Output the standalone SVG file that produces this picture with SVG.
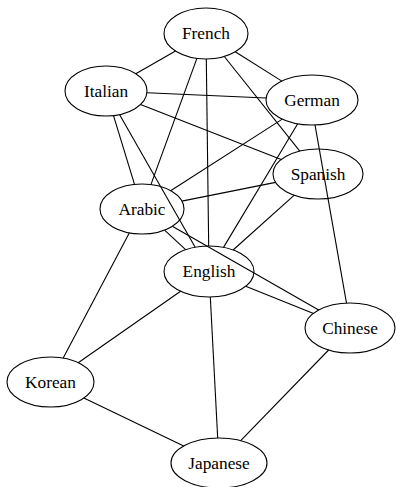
<svg xmlns="http://www.w3.org/2000/svg" width="396" height="487" viewBox="0 0 396 487">
<style>
.n ellipse{fill:none;stroke:#000;stroke-width:1.1}
text{font-family:"Times New Roman","Liberation Serif",Times,"DejaVu Serif",serif;font-size:17.3px;text-anchor:middle;fill:#000}
#edges line{stroke:#000;stroke-width:1.1}
</style>
<rect width="396" height="487" fill="#fff"/>
<g id="edges">
<line x1="175.5" y1="51.0" x2="135.8" y2="73.8"/>
<line x1="235.2" y1="51.8" x2="281.9" y2="81.1"/>
<line x1="224.3" y1="56.5" x2="299.8" y2="151.1"/>
<line x1="196.9" y1="58.4" x2="150.9" y2="184.6"/>
<line x1="206.3" y1="59.0" x2="208.7" y2="246.0"/>
<line x1="146.9" y1="92.8" x2="266.1" y2="98.0"/>
<line x1="140.5" y1="104.5" x2="281.2" y2="159.6"/>
<line x1="113.5" y1="115.6" x2="134.5" y2="184.4"/>
<line x1="119.5" y1="114.6" x2="195.2" y2="247.2"/>
<line x1="282.3" y1="119.1" x2="170.6" y2="190.7"/>
<line x1="297.7" y1="123.8" x2="223.5" y2="247.4"/>
<line x1="315.0" y1="124.9" x2="346.5" y2="303.1"/>
<line x1="275.6" y1="182.4" x2="181.8" y2="201.1"/>
<line x1="294.3" y1="195.2" x2="233.1" y2="250.0"/>
<line x1="164.6" y1="230.1" x2="185.6" y2="249.7"/>
<line x1="172.3" y1="226.3" x2="318.7" y2="310.1"/>
<line x1="129.4" y1="232.8" x2="63.2" y2="358.1"/>
<line x1="245.7" y1="286.2" x2="313.5" y2="313.4"/>
<line x1="180.6" y1="291.3" x2="78.2" y2="362.7"/>
<line x1="210.3" y1="297.0" x2="217.7" y2="438.0"/>
<line x1="328.6" y1="350.0" x2="240.7" y2="440.7"/>
<line x1="83.9" y1="398.0" x2="183.7" y2="446.0"/>
</g>
<g id="French" class="n"><ellipse cx="206" cy="33.5" rx="42" ry="25.5"/><text x="206" y="39.3" style="font-family:'Liberation Serif',serif">French</text></g>
<g id="Italian" class="n"><ellipse cx="106" cy="91" rx="41" ry="25"/><text x="106" y="96.8" style="font-family:'Liberation Serif',serif">Italian</text></g>
<g id="German" class="n"><ellipse cx="312" cy="100" rx="46" ry="25"/><text x="312" y="105.8" style="font-family:'Liberation Serif',serif">German</text></g>
<g id="Spanish" class="n"><ellipse cx="318" cy="174" rx="45" ry="25"/><text x="318" y="179.8" style="font-family:'Liberation Serif',serif">Spanish</text></g>
<g id="Arabic" class="n"><ellipse cx="142" cy="209" rx="42" ry="25"/><text x="142" y="214.8" style="font-family:'Liberation Serif',serif">Arabic</text></g>
<g id="English" class="n"><ellipse cx="209" cy="271.5" rx="45" ry="25.5"/><text x="209" y="277.3" style="font-family:'Liberation Serif',serif">English</text></g>
<g id="Chinese" class="n"><ellipse cx="350" cy="328" rx="45" ry="25"/><text x="350" y="333.8" style="font-family:'Liberation Serif',serif">Chinese</text></g>
<g id="Korean" class="n"><ellipse cx="50.5" cy="382" rx="43.5" ry="25"/><text x="50.5" y="387.8" style="font-family:'Liberation Serif',serif">Korean</text></g>
<g id="Japanese" class="n"><ellipse cx="219" cy="463" rx="48" ry="25"/><text x="219" y="468.8" style="font-family:'Liberation Serif',serif">Japanese</text></g>
</svg>
